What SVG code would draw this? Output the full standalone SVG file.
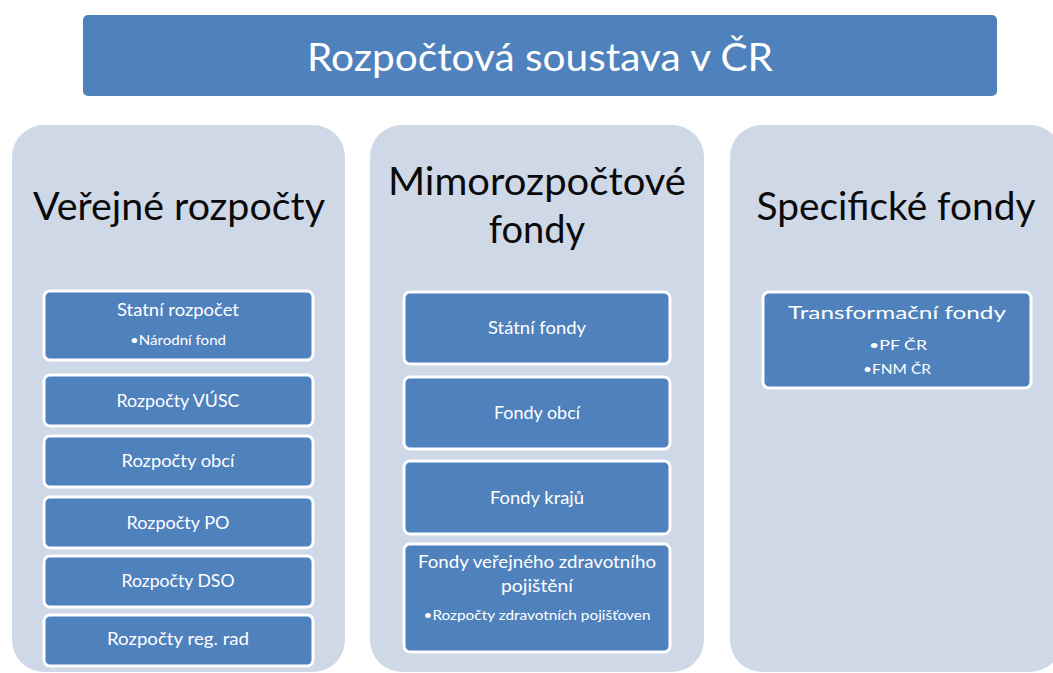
<svg xmlns="http://www.w3.org/2000/svg" width="1053" height="673" viewBox="0 0 1053 673">
  <style>
    .title { fill: #4f81bd; }
    .panel { fill: #cfd8e7; }
    .box { fill: #4f81bd; stroke: #ffffff; stroke-width: 3; }
    .tt { font-family: Lato, "Liberation Sans", sans-serif; fill: #ffffff; text-anchor: middle; }
    .hd { font-family: Lato, "Liberation Sans", sans-serif; fill: #0a0a0a; text-anchor: middle; font-size: 38px; }
    .bt { font-family: Lato, "Liberation Sans", sans-serif; fill: #ffffff; text-anchor: middle; font-size: 18px; }
    .sb { font-family: Lato, "Liberation Sans", sans-serif; fill: #ffffff; text-anchor: middle; font-size: 14px; }
  </style>
  <rect width="1053" height="673" fill="#ffffff"/>

  <!-- heading bar -->
  <g id="title">
    <rect class="title" x="83" y="15" width="914" height="81" rx="5"/>
    <text class="tt" x="540" y="71" font-size="38" textLength="466" lengthAdjust="spacingAndGlyphs">Rozpočtová soustava v ČR</text>
  </g>

  <!-- column: public budgets -->
  <g id="verejne-rozpocty">
    <rect class="panel" x="12" y="125" width="333" height="547" rx="32"/>
    <text class="hd" x="179" y="220" textLength="292" lengthAdjust="spacingAndGlyphs">Veřejné rozpočty</text>
  </g>
  <g id="statni-rozpocet">
    <rect class="box" x="44" y="291" width="269" height="69" rx="6"/>
    <text class="bt" x="178" y="316" textLength="122" lengthAdjust="spacingAndGlyphs">Statní rozpočet</text>
    <text class="sb" x="178" y="345" textLength="96" lengthAdjust="spacingAndGlyphs">•Národní fond</text>
  </g>
  <g id="rozpocty-vusc">
    <rect class="box" x="44" y="375" width="269" height="51" rx="6"/>
    <text class="bt" x="178" y="407" textLength="123" lengthAdjust="spacingAndGlyphs">Rozpočty VÚSC</text>
  </g>
  <g id="rozpocty-obci">
    <rect class="box" x="44" y="436" width="269" height="51" rx="6"/>
    <text class="bt" x="178" y="467" textLength="113" lengthAdjust="spacingAndGlyphs">Rozpočty obcí</text>
  </g>
  <g id="rozpocty-po">
    <rect class="box" x="44" y="497" width="269" height="51" rx="6"/>
    <text class="bt" x="178" y="529" textLength="103" lengthAdjust="spacingAndGlyphs">Rozpočty PO</text>
  </g>
  <g id="rozpocty-dso">
    <rect class="box" x="44" y="556" width="269" height="51" rx="6"/>
    <text class="bt" x="178" y="587" textLength="113" lengthAdjust="spacingAndGlyphs">Rozpočty DSO</text>
  </g>
  <g id="rozpocty-reg-rad">
    <rect class="box" x="44" y="615" width="269" height="51" rx="6"/>
    <text class="bt" x="178" y="645" textLength="142" lengthAdjust="spacingAndGlyphs">Rozpočty reg. rad</text>
  </g>

  <!-- column: extra-budgetary funds -->
  <g id="mimorozpoctove-fondy">
    <rect class="panel" x="370" y="125" width="334" height="547" rx="32"/>
    <text class="hd" x="537" y="195" textLength="298" lengthAdjust="spacingAndGlyphs">Mimorozpočtové</text>
    <text class="hd" x="537" y="243">fondy</text>
  </g>
  <g id="statni-fondy">
    <rect class="box" x="404" y="292" width="266" height="72" rx="6"/>
    <text class="bt" x="537" y="334" textLength="98" lengthAdjust="spacingAndGlyphs">Státní fondy</text>
  </g>
  <g id="fondy-obci">
    <rect class="box" x="404" y="377" width="266" height="72" rx="6"/>
    <text class="bt" x="537" y="419" textLength="86" lengthAdjust="spacingAndGlyphs">Fondy obcí</text>
  </g>
  <g id="fondy-kraju">
    <rect class="box" x="404" y="461" width="266" height="73" rx="6"/>
    <text class="bt" x="537" y="504" textLength="94" lengthAdjust="spacingAndGlyphs">Fondy krajů</text>
  </g>
  <g id="fondy-vzp">
    <rect class="box" x="404" y="544" width="266" height="108" rx="6"/>
    <text class="bt" x="537" y="568" textLength="238" lengthAdjust="spacingAndGlyphs">Fondy veřejného  zdravotního</text>
    <text class="bt" x="537" y="592" textLength="72" lengthAdjust="spacingAndGlyphs">pojištění</text>
    <text class="sb" x="537" y="620" textLength="227" lengthAdjust="spacingAndGlyphs">•Rozpočty zdravotních pojišťoven</text>
  </g>

  <!-- column: specific funds -->
  <g id="specificke-fondy">
    <rect class="panel" x="730" y="125" width="332" height="547" rx="32"/>
    <text class="hd" x="896" y="220" textLength="279" lengthAdjust="spacingAndGlyphs">Specifické fondy</text>
  </g>
  <g id="transformacni-fondy">
    <rect class="box" x="763" y="292" width="268" height="96" rx="6"/>
    <text class="bt" x="897" y="319" font-size="20" textLength="218" lengthAdjust="spacingAndGlyphs">Transformační fondy</text>
    <text class="sb" x="898" y="350" font-size="15" textLength="58" lengthAdjust="spacingAndGlyphs">•PF ČR</text>
    <text class="sb" x="897" y="374" font-size="15" textLength="68" lengthAdjust="spacingAndGlyphs">•FNM ČR</text>
  </g>

  <!-- no connectors in this layout -->
  <g id="connectors"/>
</svg>
